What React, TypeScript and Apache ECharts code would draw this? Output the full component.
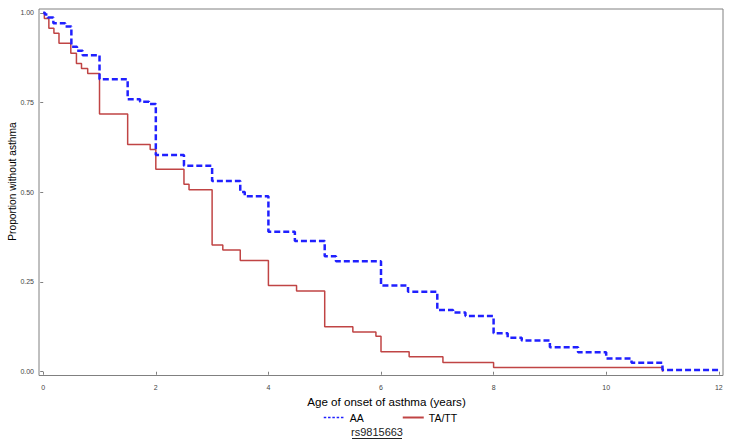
import React, { useEffect, useRef } from "react";
import * as echarts from "echarts";

// Kaplan-Meier step data: [age (years), proportion without asthma]
const aaSeries: [number, number][] = [
  [0, 1], [0.03, 0.995], [0.08, 0.987], [0.18, 0.971], [0.39, 0.962],
  [0.5, 0.905], [0.6, 0.894], [0.7, 0.882], [1.0, 0.815], [1.5, 0.759],
  [1.72, 0.752], [1.88, 0.746], [2.0, 0.604], [2.5, 0.574], [3.0, 0.531],
  [3.5, 0.501], [3.58, 0.489], [4.0, 0.39], [4.47, 0.364], [5.0, 0.322],
  [5.2, 0.308], [6.0, 0.24], [6.48, 0.223], [7.0, 0.172], [7.28, 0.165],
  [7.5, 0.155], [8.0, 0.107], [8.25, 0.095], [8.5, 0.087], [9.0, 0.068],
  [9.5, 0.054], [10.0, 0.037], [10.45, 0.025], [11.0, 0.005], [12.0, 0.005],
];

const tattSeries: [number, number][] = [
  [0, 1], [0.02, 0.984], [0.1, 0.957], [0.19, 0.943], [0.28, 0.915],
  [0.49, 0.887], [0.59, 0.859], [0.68, 0.845], [0.79, 0.831], [1.0, 0.718],
  [1.5, 0.633], [1.9, 0.619], [2.0, 0.564], [2.5, 0.522], [2.59, 0.507],
  [3.0, 0.353], [3.19, 0.339], [3.5, 0.31], [4.0, 0.24], [4.5, 0.225],
  [5.0, 0.125], [5.5, 0.111], [5.91, 0.099], [6.0, 0.056], [6.5, 0.042],
  [7.1, 0.026], [8.0, 0.012], [11.0, 0.012], [11.0, 0.0],
];

const xTicks = [0, 2, 4, 6, 8, 10, 12];
const yTicks = [0, 0.25, 0.5, 0.75, 1.0];
const seriesNames = ["AA", "TA/TT"];
const xTitle = "Age of onset of asthma (years)";
const yTitle = "Proportion without asthma";
const legendTitle = "rs9815663";

const FONT = "Arial, 'Liberation Sans', sans-serif";

export default function App() {
  const ref = useRef<HTMLDivElement>(null);
  useEffect(() => {
    if (!ref.current) return;
    const chart = echarts.init(ref.current, undefined, { renderer: "svg" });
    chart.setOption({
      animation: false,
      backgroundColor: "#ffffff",
      textStyle: { fontFamily: FONT },
      grid: {
        left: 39,
        right: 10,
        top: 9,
        bottom: 67.5,
        show: true,
        borderColor: "#808080",
        borderWidth: 1,
        backgroundColor: "transparent",
      },
      xAxis: {
        type: "value",
        min: -0.075,
        max: 12.075,
        axisLine: { show: false },
        splitLine: { show: false },
        axisTick: {
          show: true,
          length: 3,
          customValues: xTicks,
          lineStyle: { color: "#808080" },
        },
        axisLabel: {
          customValues: xTicks,
          fontSize: 7,
          color: "#444",
          margin: 8,
          formatter: (v: number) => String(Math.round(v)),
        },
        name: xTitle,
        nameLocation: "middle",
        nameGap: 20,
        nameTextStyle: { fontSize: 11.6, color: "#000", padding: [0, 0, 0, 11] },
      },
      yAxis: {
        type: "value",
        min: -0.0105,
        max: 1.0105,
        axisLine: { show: false },
        splitLine: { show: false },
        axisTick: {
          show: true,
          length: 3,
          customValues: yTicks,
          lineStyle: { color: "#808080" },
        },
        axisLabel: {
          customValues: yTicks,
          fontSize: 7,
          color: "#444",
          margin: 5,
          formatter: (v: number) => v.toFixed(2),
        },
      },
      legend: {
        left: 318,
        top: 407,
        itemWidth: 21,
        itemHeight: 10,
        itemGap: 38,
        itemStyle: { opacity: 0 },
        textStyle: { fontSize: 10.5, color: "#000", fontFamily: FONT },
        data: [
          {
            name: seriesNames[0],
            itemStyle: { opacity: 0 },
            lineStyle: { width: 1.5, type: [2.5, 1.8], color: "#2020ff" },
          },
          {
            name: seriesNames[1],
            itemStyle: { opacity: 0 },
            lineStyle: { width: 2, type: "solid", color: "#c04444" },
          },
        ],
      },
      graphic: [
        {
          type: "text",
          x: 12,
          y: 181.5,
          rotation: Math.PI / 2,
          style: {
            text: yTitle,
            fontSize: 10.2,
            fontFamily: FONT,
            fill: "#000",
            align: "center",
            verticalAlign: "middle",
          },
        },
        {
          type: "text",
          x: 377,
          y: 432,
          style: {
            text: legendTitle,
            fontSize: 11,
            fontFamily: FONT,
            fill: "#222",
            align: "center",
            verticalAlign: "middle",
          },
        },
        {
          type: "line",
          shape: { x1: 352, y1: 438.5, x2: 402, y2: 438.5 },
          style: { stroke: "#222", lineWidth: 1 },
        },
      ],
      series: [
        {
          name: seriesNames[1],
          type: "line",
          step: "end",
          symbol: "none",
          data: tattSeries,
          color: "#c04444",
          lineStyle: { width: 1.5, color: "#c04444" },
          z: 2,
        },
        {
          name: seriesNames[0],
          type: "line",
          step: "end",
          symbol: "none",
          data: aaSeries,
          color: "#2020ff",
          lineStyle: { width: 2.5, type: [6, 3], color: "#2020ff" },
          z: 3,
        },
      ],
    });
    return () => chart.dispose();
  }, []);
  return (
    <div
      ref={ref}
      style={{ position: "fixed", left: 0, top: 0, width: 733, height: 443, background: "#fff" }}
    />
  );
}
